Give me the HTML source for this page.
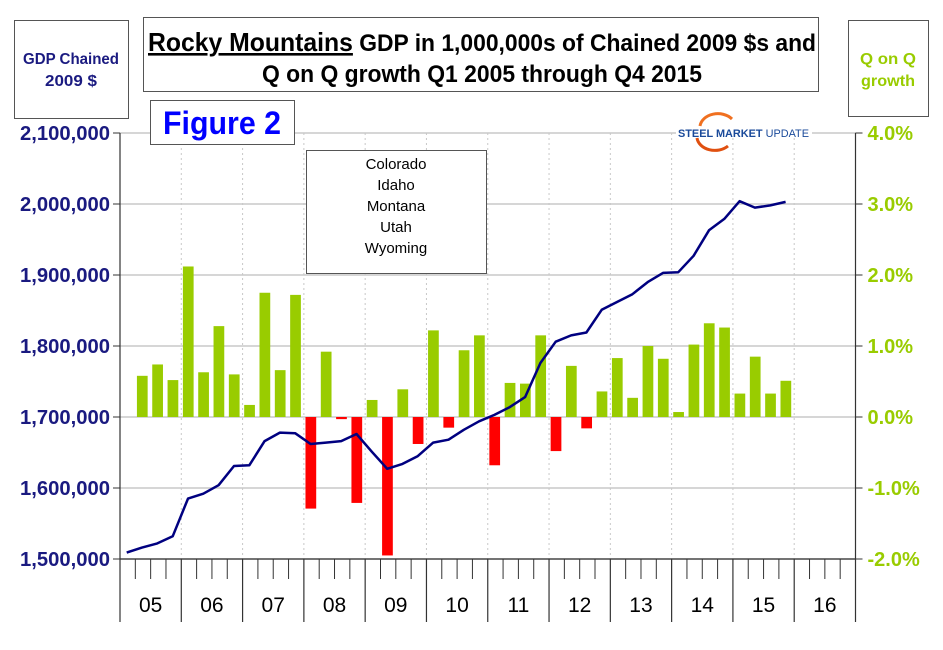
<!DOCTYPE html>
<html><head><meta charset="utf-8"><style>
body{margin:0;background:#fff;width:943px;height:645px;overflow:hidden;font-family:"Liberation Sans Narrow","Liberation Sans",sans-serif}
</style></head><body>
<svg id="chart" width="943" height="645" xmlns="http://www.w3.org/2000/svg" font-family="'Liberation Sans Narrow','Liberation Sans',sans-serif">
<rect x="0" y="0" width="943" height="645" fill="#fff"/>
<g>
<rect x="14.5" y="20.5" width="114" height="98" fill="#fff" stroke="#555"/>
<text x="71" y="64" text-anchor="middle" font-size="16" font-weight="bold" fill="#1a1a80" textLength="96" lengthAdjust="spacingAndGlyphs">GDP Chained</text>
<text x="71" y="86" text-anchor="middle" font-size="16" font-weight="bold" fill="#1a1a80" textLength="52" lengthAdjust="spacingAndGlyphs">2009 $</text>
</g>
<g>
<rect x="143.5" y="17.5" width="675" height="74" fill="#fff" stroke="#555"/>
<text x="482" y="51" text-anchor="middle" font-size="24" font-weight="bold" fill="#000" textLength="668" lengthAdjust="spacingAndGlyphs"><tspan text-decoration="underline" font-size="26">Rocky Mountains</tspan> GDP in 1,000,000s of Chained 2009 $s and</text>
<text x="482" y="82" text-anchor="middle" font-size="24" font-weight="bold" fill="#000" textLength="440" lengthAdjust="spacingAndGlyphs">Q on Q growth Q1 2005 through Q4 2015</text>
</g>
<g>
<rect x="848.5" y="20.5" width="80" height="96" fill="#fff" stroke="#555"/>
<text x="888" y="64" text-anchor="middle" font-size="16" font-weight="bold" fill="#99cc00" textLength="56" lengthAdjust="spacingAndGlyphs">Q on Q</text>
<text x="888" y="86" text-anchor="middle" font-size="16" font-weight="bold" fill="#99cc00" textLength="54" lengthAdjust="spacingAndGlyphs">growth</text>
</g>
<g id="grid"></g>
<g id="bars"></g>
<g id="axes"></g>
<polyline id="gdp-line" fill="none" stroke="#000080" stroke-width="2.5" stroke-linejoin="round"/>
<g>
<rect x="150.5" y="100.5" width="144" height="44" fill="#fff" stroke="#555"/>
<text x="222" y="134" text-anchor="middle" font-size="32" font-weight="bold" fill="#0000ff" textLength="118" lengthAdjust="spacingAndGlyphs">Figure 2</text>
</g>
<g>
<rect x="306.5" y="150.5" width="180" height="123" fill="#fff" stroke="#555"/>
<text x="396" y="169" text-anchor="middle" font-size="15" fill="#000" font-family="'Liberation Sans',sans-serif">Colorado</text>
<text x="396" y="190" text-anchor="middle" font-size="15" fill="#000" font-family="'Liberation Sans',sans-serif">Idaho</text>
<text x="396" y="211" text-anchor="middle" font-size="15" fill="#000" font-family="'Liberation Sans',sans-serif">Montana</text>
<text x="396" y="232" text-anchor="middle" font-size="15" fill="#000" font-family="'Liberation Sans',sans-serif">Utah</text>
<text x="396" y="253" text-anchor="middle" font-size="15" fill="#000" font-family="'Liberation Sans',sans-serif">Wyoming</text>
</g>
<g>
<rect x="676" y="126" width="136" height="12" fill="#fff"/>
<path d="M700 126 A18 14 0 0 1 732 119" fill="none" stroke="#f07020" stroke-width="3"/>
<path d="M697 138 A18 14 0 0 0 728 146" fill="none" stroke="#e05010" stroke-width="3"/>
<text x="678" y="137" font-size="11" font-weight="bold" fill="#1a4a9a" font-family="'Liberation Sans',sans-serif" textLength="131" lengthAdjust="spacingAndGlyphs">STEEL MARKET <tspan font-weight="normal">UPDATE</tspan></text>
</g>
</svg>
<script>
const yearLabels=["05","06","07","08","09","10","11","12","13","14","15","16"];
const leftTicks=[1500000,1600000,1700000,1800000,1900000,2000000,2100000];
const rightTicks=[-2,-1,0,1,2,3,4];
const gdp=[1509,1516,1522,1532,1585,1592,1604,1631,1632,1666,1678,1677,1662,1664,1666,1676,1651,1627,1634,1645,1664,1668,1682,1694,1703,1714,1728,1776,1806,1815,1819,1851,1862,1873,1890,1903,1904,1927,1963,1979,2004,1995,1998,2003];
const growth=[null,0.58,0.74,0.52,2.12,0.63,1.28,0.60,0.17,1.75,0.66,1.72,-1.29,0.92,-0.03,-1.21,0.24,-1.95,0.39,-0.38,1.22,-0.15,0.94,1.15,-0.68,0.48,0.47,1.15,-0.48,0.72,-0.16,0.36,0.83,0.27,1.0,0.82,0.07,1.02,1.32,1.26,0.33,0.85,0.33,0.51];
const NS='http://www.w3.org/2000/svg';
const X0=120,X1=855.5,Y0=559,Y1=133,QW=(X1-X0)/48;
const yL=v=>Y0-(v-1500000)/600000*(Y0-Y1);
const yR=p=>Y0-(p+2)/6*(Y0-Y1);
const xQ=q=>X0+QW*q;
function mk(tag,attrs,parent){const e=document.createElementNS(NS,tag);for(const k in attrs)e.setAttribute(k,attrs[k]);parent.appendChild(e);return e;}
const grid=document.getElementById('grid'),bars=document.getElementById('bars'),axes=document.getElementById('axes');
leftTicks.forEach((v,i)=>{
 const y=yL(v);
 const g=mk('line',{x1:X0,x2:X1,y1:y,y2:y,stroke:'#c8c8c8','stroke-width':1.5},grid);
 
 
 mk('line',{x1:X0-7,x2:X0,y1:y,y2:y,stroke:'#333'},axes);
 const t=mk('text',{x:X0-10,y:y+7,'text-anchor':'end','font-size':20,'font-weight':'bold',fill:'#1a1a80',textLength:90,lengthAdjust:'spacingAndGlyphs'},axes);
 t.textContent=v.toLocaleString('en-US');
 
 
});
rightTicks.forEach(p=>{
 const y=yR(p);
 mk('line',{x1:X1,x2:X1+7,y1:y,y2:y,stroke:'#333'},axes);
 const t=mk('text',{x:X1+12,y:y+7,'font-size':20,'font-weight':'bold',fill:'#99cc00'},axes);
 t.textContent=p.toFixed(1)+'%';
 
 
});
yearLabels.forEach((lab,i)=>{
 const x=xQ(i*4);
 if(i>0){const d=mk('line',{x1:x,x2:x,y1:Y1,y2:Y0,stroke:'#c8c8c8','stroke-dasharray':'2,3'},grid);
 
 }
 mk('line',{x1:x,x2:x,y1:Y0,y2:622,stroke:'#333','stroke-width':1.2},axes);
 for(let k=1;k<4;k++){const xx=xQ(i*4+k);mk('line',{x1:xx,x2:xx,y1:Y0,y2:579,stroke:'#333'},axes);}
 const t=mk('text',{x:x+QW*2,y:612,'text-anchor':'middle','font-size':21,fill:'#000','font-family':"'Liberation Sans',sans-serif"},axes);
 t.textContent=lab;
 
 
});
mk('line',{x1:X1,x2:X1,y1:Y1,y2:622,stroke:'#333','stroke-width':1.2},axes);
mk('line',{x1:X0,x2:X1,y1:Y0,y2:Y0,stroke:'#333','stroke-width':1.2},axes);
mk('line',{x1:X0,x2:X0,y1:Y1,y2:Y0,stroke:'#333','stroke-width':1.2},axes);
growth.forEach((g,q)=>{
 if(g===null)return;
 const y0=yR(0),y=yR(g);
 const r=mk('rect',{x:xQ(q)+1.6,width:QW*0.7,y:Math.min(y0,y),height:Math.max(Math.abs(y-y0),1),fill:g>=0?'#99cc00':'#ff0000'},bars);
 
 
});
document.getElementById('gdp-line').setAttribute('points',gdp.map((v,q)=>(xQ(q)+6.7).toFixed(1)+','+yL(v*1000).toFixed(1)).join(' '));
</script>
</body></html>
